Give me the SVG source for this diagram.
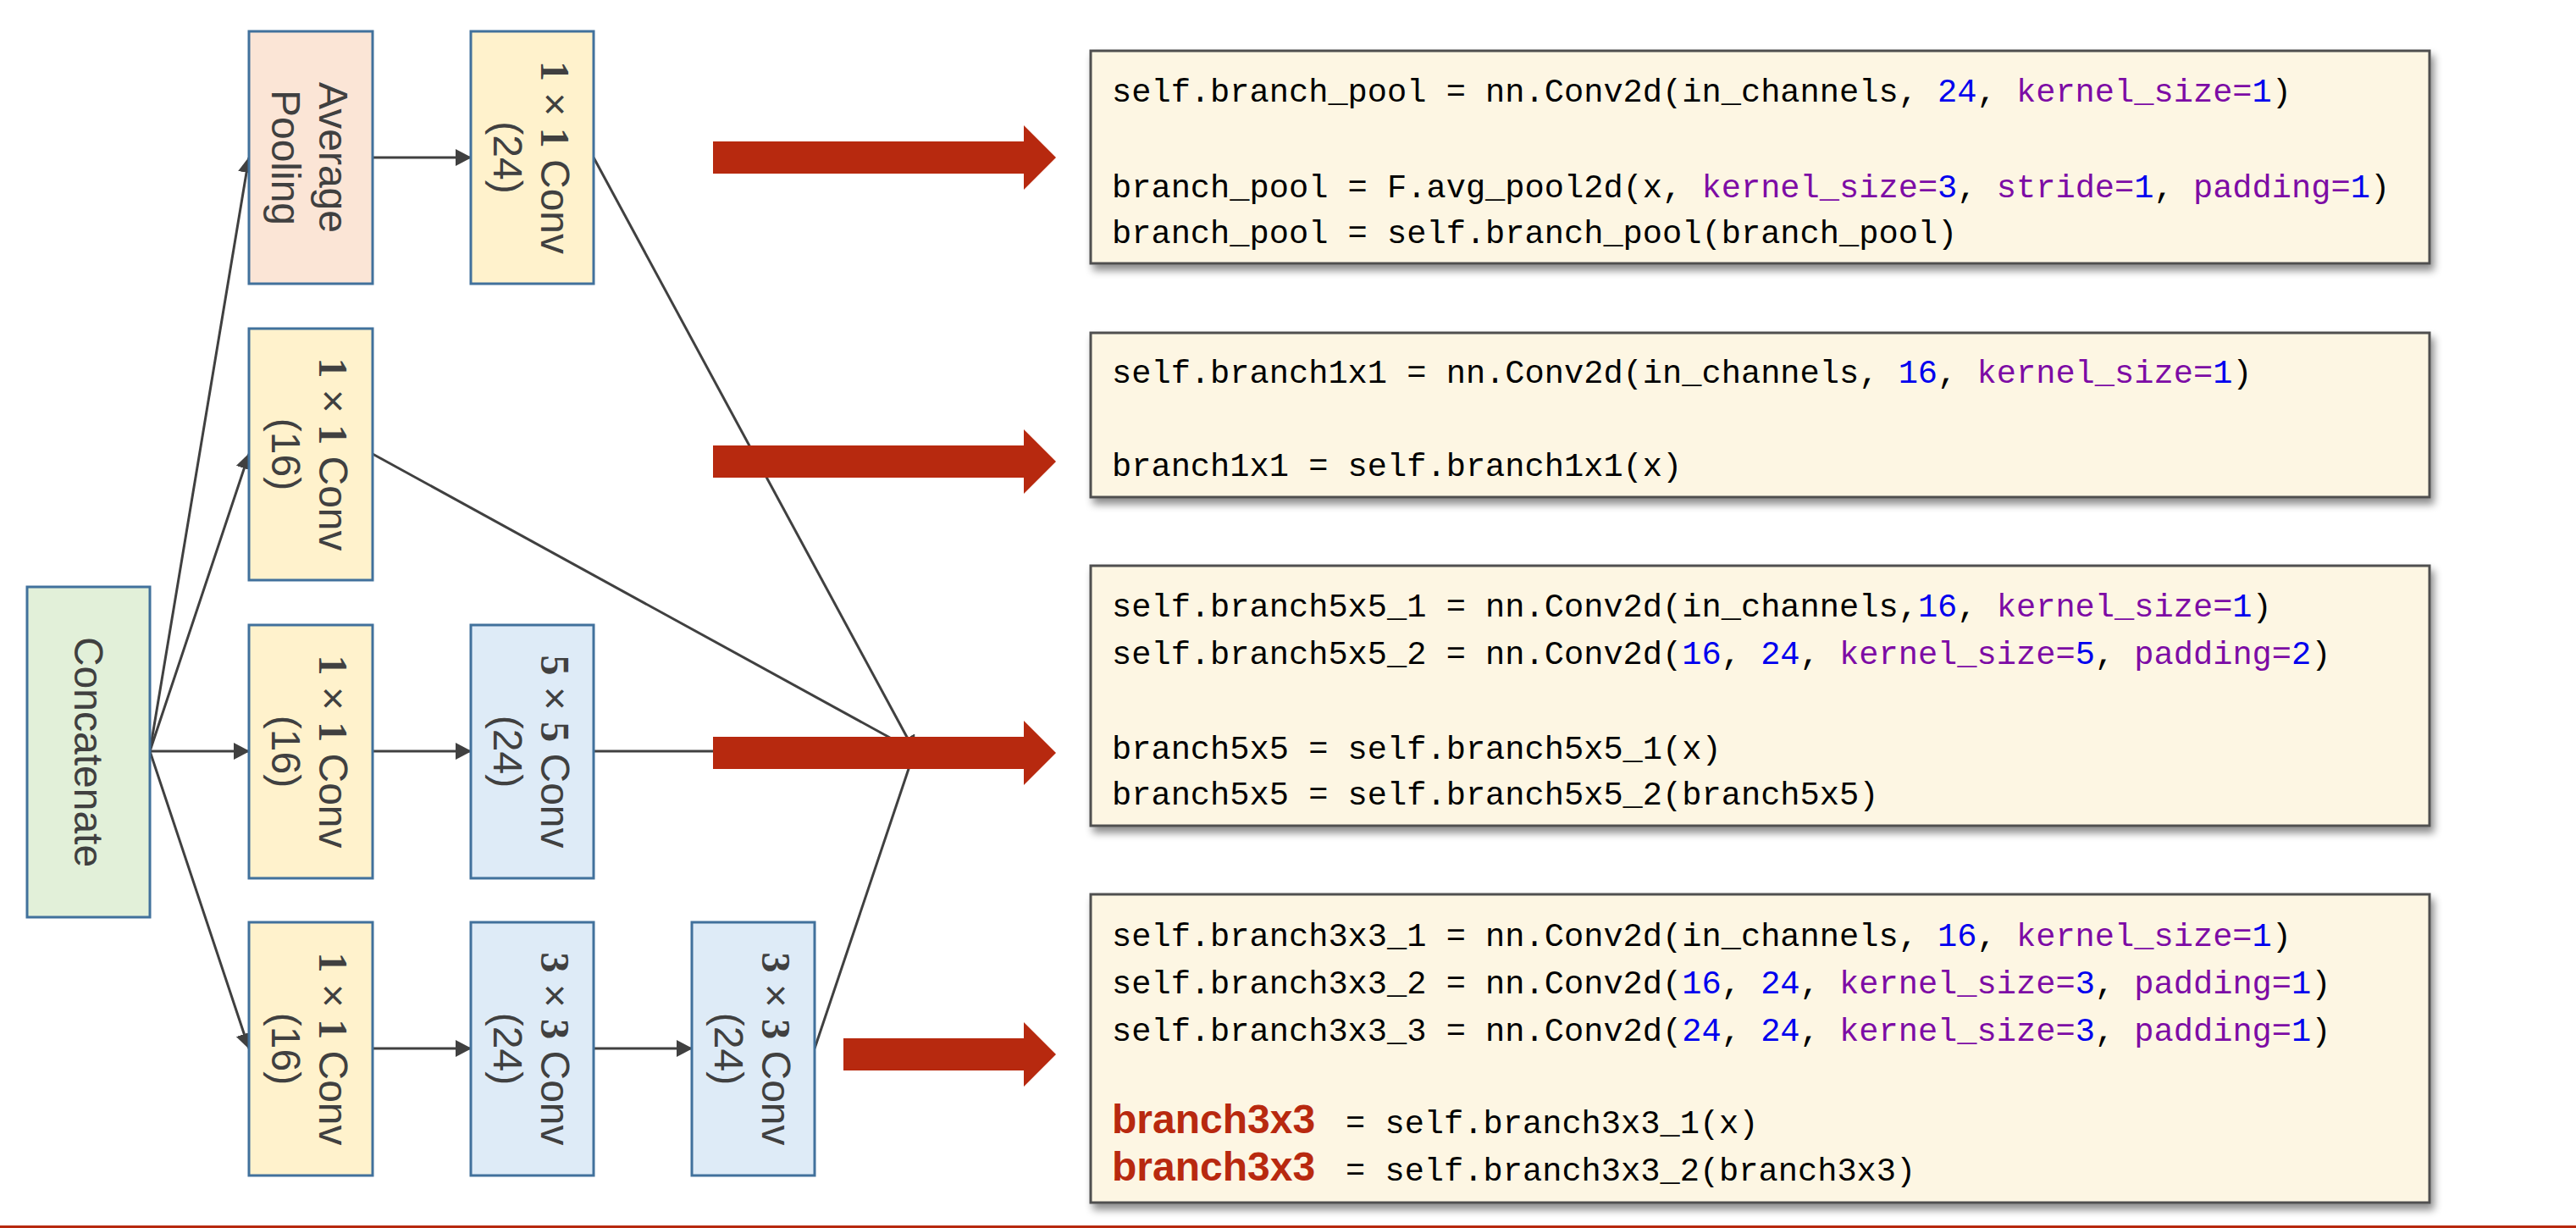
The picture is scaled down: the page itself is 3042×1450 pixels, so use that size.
<svg xmlns="http://www.w3.org/2000/svg" width="3042" height="1450" viewBox="0 0 3042 1450">
<style>
.node{stroke:#41719c;stroke-width:3}
.pool{fill:#fbe5d6}
.yel{fill:#fff2cc}
.blu{fill:#deebf7}
.grn{fill:#e2f0d9}
.lbl{font-family:"Liberation Sans",Arial,sans-serif;font-size:48px;fill:#404040;text-anchor:middle}
.d{font-family:"Liberation Serif","Times New Roman",serif;font-weight:bold}
.conn{stroke:#404040;stroke-width:3;fill:none;marker-end:url(#ah)}
.code{fill:#fdf6e3;stroke:#505050;stroke-width:3;filter:url(#sh)}
.ct{font-family:"Liberation Mono","Courier New",monospace;font-size:38.7px;fill:#000}
.n{fill:#0000ee}
.k{fill:#7d0ca5}
.rb{font-family:"Liberation Sans",Arial,sans-serif;font-weight:bold;font-size:48px;fill:#b8290f}
.red{fill:#b7290f}
</style>
<defs>
<marker id="ah" markerUnits="userSpaceOnUse" viewBox="0 0 19 20" markerWidth="19" markerHeight="20" refX="18" refY="10" orient="auto">
<path d="M0,0 L19,10 L0,20 z" fill="#404040"/>
</marker>
<filter id="sh" x="-3%" y="-5%" width="106%" height="115%">
<feDropShadow dx="4" dy="7" stdDeviation="5" flood-color="#000" flood-opacity="0.45"/>
</filter>
</defs>
<rect width="3042" height="1450" fill="#fff"/>

<g id="connectors">
<line class="conn" x1="177" y1="887" x2="294" y2="186"/>
<line class="conn" x1="177" y1="887" x2="294" y2="536"/>
<line class="conn" x1="177" y1="887" x2="294" y2="887"/>
<line class="conn" x1="177" y1="887" x2="294" y2="1238"/>
<line class="conn" x1="440" y1="186" x2="556" y2="186"/>
<line class="conn" x1="440" y1="887" x2="556" y2="887"/>
<line class="conn" x1="440" y1="1238" x2="556" y2="1238"/>
<line class="conn" x1="701" y1="1238" x2="817" y2="1238"/>
<line class="conn" x1="701" y1="186" x2="1080" y2="887"/>
<line class="conn" x1="440" y1="536" x2="1080" y2="887"/>
<line class="conn" x1="701" y1="887" x2="1080" y2="887"/>
<line class="conn" x1="962" y1="1238" x2="1080" y2="887"/>
</g>

<g id="concat">
<rect class="node grn" x="32" y="693" width="145" height="390"/>
<g transform="translate(104.5,888) rotate(90)"><text class="lbl" x="0" y="17">Concatenate</text></g>
</g>
<g id="avgpool">
<rect class="node pool" x="294" y="37" width="146" height="298"/>
<g transform="translate(367,186) rotate(90)"><text class="lbl" x="0" y="-10">Average</text><text class="lbl" x="0" y="46">Pooling</text></g>
</g>
<g id="conv1x1_24">
<rect class="node yel" x="556" y="37" width="145" height="298"/>
<g transform="translate(628.5,186) rotate(90)"><text class="lbl" x="0" y="-10"><tspan class="d">1</tspan> × <tspan class="d">1</tspan> Conv</text><text class="lbl" x="0" y="46">(24)</text></g>
</g>
<g id="conv1x1_16a">
<rect class="node yel" x="294" y="388" width="146" height="297"/>
<g transform="translate(367,536.5) rotate(90)"><text class="lbl" x="0" y="-10"><tspan class="d">1</tspan> × <tspan class="d">1</tspan> Conv</text><text class="lbl" x="0" y="46">(16)</text></g>
</g>
<g id="conv1x1_16b">
<rect class="node yel" x="294" y="738" width="146" height="299"/>
<g transform="translate(367,887.5) rotate(90)"><text class="lbl" x="0" y="-10"><tspan class="d">1</tspan> × <tspan class="d">1</tspan> Conv</text><text class="lbl" x="0" y="46">(16)</text></g>
</g>
<g id="conv5x5">
<rect class="node blu" x="556" y="738" width="145" height="299"/>
<g transform="translate(628.5,887.5) rotate(90)"><text class="lbl" x="0" y="-10"><tspan class="d">5</tspan> × <tspan class="d">5</tspan> Conv</text><text class="lbl" x="0" y="46">(24)</text></g>
</g>
<g id="conv1x1_16c">
<rect class="node yel" x="294" y="1089" width="146" height="299"/>
<g transform="translate(367,1238.5) rotate(90)"><text class="lbl" x="0" y="-10"><tspan class="d">1</tspan> × <tspan class="d">1</tspan> Conv</text><text class="lbl" x="0" y="46">(16)</text></g>
</g>
<g id="conv3x3a">
<rect class="node blu" x="556" y="1089" width="145" height="299"/>
<g transform="translate(628.5,1238.5) rotate(90)"><text class="lbl" x="0" y="-10"><tspan class="d">3</tspan> × <tspan class="d">3</tspan> Conv</text><text class="lbl" x="0" y="46">(24)</text></g>
</g>
<g id="conv3x3b">
<rect class="node blu" x="817" y="1089" width="145" height="299"/>
<g transform="translate(889.5,1238.5) rotate(90)"><text class="lbl" x="0" y="-10"><tspan class="d">3</tspan> × <tspan class="d">3</tspan> Conv</text><text class="lbl" x="0" y="46">(24)</text></g>
</g>

<g id="red-arrows">
<polygon class="red" points="842,167 1209,167 1209,148 1247,186 1209,224 1209,205 842,205"/>
<polygon class="red" points="842,526 1209,526 1209,507 1247,545 1209,583 1209,564 842,564"/>
<polygon class="red" points="842,870 1209,870 1209,851 1247,889 1209,927 1209,908 842,908"/>
<polygon class="red" points="996,1226 1209,1226 1209,1207 1247,1245 1209,1283 1209,1264 996,1264"/>
</g>

<g id="code-pool">
<rect class="code" x="1288" y="60" width="1581" height="251"/>
<text class="ct" x="1313" y="120">self.branch_pool = nn.Conv2d(in_channels, <tspan class="n">24</tspan>, <tspan class="k">kernel_size=</tspan><tspan class="n">1</tspan>)</text>
<text class="ct" x="1313" y="233">branch_pool = F.avg_pool2d(x, <tspan class="k">kernel_size=</tspan><tspan class="n">3</tspan>, <tspan class="k">stride=</tspan><tspan class="n">1</tspan>, <tspan class="k">padding=</tspan><tspan class="n">1</tspan>)</text>
<text class="ct" x="1313" y="287">branch_pool = self.branch_pool(branch_pool)</text>
</g>
<g id="code-1x1">
<rect class="code" x="1288" y="393" width="1581" height="194"/>
<text class="ct" x="1313" y="452">self.branch1x1 = nn.Conv2d(in_channels, <tspan class="n">16</tspan>, <tspan class="k">kernel_size=</tspan><tspan class="n">1</tspan>)</text>
<text class="ct" x="1313" y="562">branch1x1 = self.branch1x1(x)</text>
</g>
<g id="code-5x5">
<rect class="code" x="1288" y="668" width="1581" height="307"/>
<text class="ct" x="1313" y="728">self.branch5x5_1 = nn.Conv2d(in_channels,<tspan class="n">16</tspan>, <tspan class="k">kernel_size=</tspan><tspan class="n">1</tspan>)</text>
<text class="ct" x="1313" y="784">self.branch5x5_2 = nn.Conv2d(<tspan class="n">16</tspan>, <tspan class="n">24</tspan>, <tspan class="k">kernel_size=</tspan><tspan class="n">5</tspan>, <tspan class="k">padding=</tspan><tspan class="n">2</tspan>)</text>
<text class="ct" x="1313" y="896">branch5x5 = self.branch5x5_1(x)</text>
<text class="ct" x="1313" y="950">branch5x5 = self.branch5x5_2(branch5x5)</text>
</g>
<g id="code-3x3">
<rect class="code" x="1288" y="1056" width="1581" height="364"/>
<text class="ct" x="1313" y="1117">self.branch3x3_1 = nn.Conv2d(in_channels, <tspan class="n">16</tspan>, <tspan class="k">kernel_size=</tspan><tspan class="n">1</tspan>)</text>
<text class="ct" x="1313" y="1173">self.branch3x3_2 = nn.Conv2d(<tspan class="n">16</tspan>, <tspan class="n">24</tspan>, <tspan class="k">kernel_size=</tspan><tspan class="n">3</tspan>, <tspan class="k">padding=</tspan><tspan class="n">1</tspan>)</text>
<text class="ct" x="1313" y="1229">self.branch3x3_3 = nn.Conv2d(<tspan class="n">24</tspan>, <tspan class="n">24</tspan>, <tspan class="k">kernel_size=</tspan><tspan class="n">3</tspan>, <tspan class="k">padding=</tspan><tspan class="n">1</tspan>)</text>
<text class="rb" x="1313" y="1338">branch3x3</text>
<text class="ct" x="1589" y="1338">= self.branch3x3_1(x)</text>
<text class="rb" x="1313" y="1394">branch3x3</text>
<text class="ct" x="1589" y="1394">= self.branch3x3_2(branch3x3)</text>
</g>

<rect class="red" x="0" y="1447" width="3042" height="3"/>
</svg>
